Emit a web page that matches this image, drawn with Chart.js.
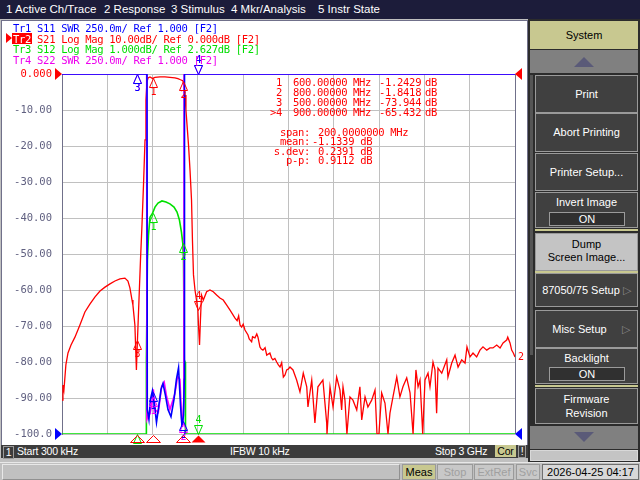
<!DOCTYPE html>
<html>
<head>
<meta charset="utf-8">
<script src="https://cdn.jsdelivr.net/npm/chart.js@4.4.1/dist/chart.umd.min.js"></script>
<style>
  body { margin: 0; width: 640px; height: 480px; overflow: hidden; position: relative;
         background: #c0c0c0; font-family: 'Liberation Sans', Arial, sans-serif; }
  .abs { position: absolute; white-space: pre; }
  #menubar { left: 0; top: 0; width: 640px; height: 19px; background: #1c1c3a; }
  #menubar span { position: absolute; top: 3px; color: #fff; font-size: 11.5px; }
  #chwin { left: 1px; top: 20px; width: 525px; height: 424px; background: #fff; border: 1px solid #70708a; }
  #status { left: 1px; top: 445px; width: 527px; height: 13px; background: #3c3c3c; color: #fff; font-size: 10.5px; letter-spacing: -0.2px; }
  #status span { position: absolute; top: 0; line-height: 13px; }
  #panel { left: 528px; top: 19px; width: 112px; height: 443px; background: #2c2c2c; }
  .btn { position: absolute; left: 7px; width: 101px; background: #404040; border: 1px solid #9a9a9a;
         color: #fff; font-size: 11px; text-align: center; }
  .onbox { position: absolute; left: 13px; width: 74px; height: 12px; border: 1px solid #9a9a9a;
           background: #303030; line-height: 12px; }
  .sep { position: absolute; left: 7px; width: 103px; height: 2px; background: #c8c890; }
  #bottom { left: 0; top: 462px; width: 640px; height: 18px; background: #c0c0c0; border-top: 1px solid #e8e8e8; }
  .bb { position: absolute; top: 1px; height: 14px; line-height: 14px; font-size: 11px; text-align: center;
        border: 1px solid #9a9a9a; }
  .mono { font-family: 'DejaVu Sans Mono', monospace; font-size: 10.5px; line-height: 10px; letter-spacing: -0.3px; }
  #chart { position: absolute; left: 0; top: 0; z-index: 2; }
  #overlay { position: absolute; left: 0; top: 0; width: 640px; height: 480px; z-index: 3; }
</style>
</head>
<body>
<div id="menubar" class="abs">
  <span style="left:6px">1 Active Ch/Trace</span>
  <span style="left:104px">2 Response</span>
  <span style="left:171px">3 Stimulus</span>
  <span style="left:231px">4 Mkr/Analysis</span>
  <span style="left:318px">5 Instr State</span>
</div>
<div id="chwin" class="abs"></div>
<div id="status" class="abs">
  <span style="left:2px;top:1px;width:9px;height:11px;line-height:11px;border:1px solid #9a9a9a;text-align:center">1</span>
  <span style="left:16px">Start 300 kHz</span>
  <span style="left:229px">IFBW 10 kHz</span>
  <span style="left:434px">Stop 3 GHz</span>
  <span style="left:494px;top:0;width:21px;height:12px;line-height:12px;background:#c8c890;color:#000;text-align:center">Cor</span>
  <span style="left:517px;top:0;width:6px;height:11px;line-height:11px;border:1px solid #9a9a9a;text-align:center">!</span>
</div>
<div id="panel" class="abs">
  <div class="abs" style="left:2px;top:56px;width:3px;height:280px;background:#555"></div>
  <div class="btn" style="left:2px;top:2px;width:106px;height:26px;line-height:26px;background:#c8c890;color:#000;border-color:#c8c890">System</div>
  <div class="btn" style="left:2px;top:31px;width:106px;height:21px;background:#808080;border-color:#808080"></div>
  <div class="btn" style="top:56px;height:36px;line-height:36px">Print</div>
  <div class="btn" style="top:94px;height:37px;line-height:37px">Abort Printing</div>
  <div class="btn" style="top:134px;height:36px;line-height:36px">Printer Setup...</div>
  <div class="btn" style="top:173px;height:34px"><div style="margin-top:3px;line-height:13px">Invert Image</div><div class="onbox" style="top:19px">ON</div></div>
  <div class="sep" style="top:210px"></div>
  <div class="btn" style="top:214px;height:36px;background:#c4c4c4;color:#000;line-height:13px"><div style="margin-top:4px">Dump</div><div>Screen Image...</div></div>
  <div class="sep" style="top:252px"></div>
  <div class="btn" style="top:254px;height:32px;line-height:32px">87050/75 Setup <span style="color:#888">&#9655;</span></div>
  <div class="btn" style="top:291px;height:36px;line-height:36px">&nbsp;&nbsp;&nbsp;Misc Setup&nbsp;&nbsp;&nbsp;&nbsp;&nbsp;<span style="color:#888">&#9655;</span></div>
  <div class="btn" style="top:329px;height:34px"><div style="margin-top:3px;line-height:13px">Backlight</div><div class="onbox" style="top:18px">ON</div></div>
  <div class="sep" style="top:366px"></div>
  <div class="btn" style="top:369px;height:34px;line-height:14px"><div style="margin-top:3px">Firmware</div><div>Revision</div></div>
  <div class="btn" style="left:2px;top:407px;width:106px;height:21px;background:#808080;border-color:#808080"></div>
  <div class="btn" style="left:2px;top:431px;width:106px;height:9px;background:#c4c4c4;border-color:#d8d8d8"></div>
  <svg class="abs" style="left:0;top:0" width="112" height="443">
    <polygon points="46,48 66,48 56,38" fill="#5a5a78"/>
    <polygon points="46,413 66,413 56,423" fill="#5a5a78"/>
  </svg>
</div>
<div id="bottom" class="abs">
  <div class="bb" style="left:2px;width:396px;border-color:#e8e8e8 #909090 #909090 #e8e8e8"></div>
  <div class="bb" style="left:402px;width:32px;background:#c8c890">Meas</div>
  <div class="bb" style="left:437px;width:34px;color:#a0a0a0;background:#c8c8c8">Stop</div>
  <div class="bb" style="left:474px;width:38px;color:#a0a0a0;background:#c8c8c8">ExtRef</div>
  <div class="bb" style="left:516px;width:22px;color:#a0a0a0;background:#c8c8c8">Svc</div>
  <div class="bb" style="left:542px;width:95px;background:#d8d8d8;border-color:#707070">2026-04-25 04:17</div>
</div>

<canvas id="chart" width="640" height="480"></canvas>
<div id="overlay"></div>

<script>
// stimulus range (MHz)
const startMHz = 0.3;
const stopMHz = 3000;

// Tr2 S21 log mag (dB)
const s21Freq = [0.3, 6.6, 13, 26, 40, 60, 86, 119, 152, 185, 219, 252, 285, 318, 351, 384, 417, 437, 450, 464,
  470, 483, 493, 500, 510, 520, 530, 540, 550, 556, 563, 570, 583, 600, 616, 649, 682, 715, 748, 768,
  785, 800, 808, 815, 821, 828, 838, 848, 858, 864, 871, 881, 891, 900, 904, 911, 917, 924, 936, 958,
  980, 1002, 1024, 1046, 1068, 1091, 1113, 1146, 1160, 1170, 1179, 1190, 1200, 1212, 1232, 1240, 1256, 1262, 1278, 1290,
  1298, 1311, 1320, 1331, 1345, 1356, 1377, 1388, 1397, 1410, 1422, 1433, 1444, 1455, 1466, 1477, 1488, 1498, 1510, 1530,
  1554, 1576, 1598, 1621, 1629, 1654, 1675, 1695, 1728, 1753, 1755, 1775, 1795, 1819, 1841,
  1852, 1861, 1874, 1887, 1907, 1927, 1952, 1973, 1985, 2007, 2026, 2051, 2073, 2086, 2099, 2117, 2139, 2159, 2172, 2192,
  2217, 2238, 2258, 2283, 2305, 2325, 2344, 2358, 2371, 2389, 2404, 2424, 2437, 2457, 2470, 2481, 2490, 2515, 2548, 2556,
  2581, 2603, 2623, 2647, 2669, 2682, 2702, 2722, 2746, 2768, 2788, 2813, 2834, 2854, 2879, 2901, 2921, 2945, 2952, 2967,
  2978, 2989, 3000];
const s21Db = [-90.6, -86.4, -87.8, -80.8, -77.5, -75.3, -73.1, -69.7, -66.1, -63.9, -61.9, -60.3, -59.2, -58.3, -57.5, -56.9, -56.7, -57.5, -59.4, -62.8,
  -64.2, -69.7, -82.2, -73.9, -62.8, -51.7, -41.9, -30.8, -18.3, -7.2, -2.2, -1.1, -0.8, -1.24, -0.95, -0.8, -0.8, -0.95, -1.1, -1.3,
  -1.6, -1.84, -3.0, -5.8, -10.0, -14.0, -19.7, -26.7, -35.0, -46.0, -55.8, -60.0, -62.8, -65.43, -69.7, -75.3, -68.3, -61.4, -62.8, -60.5,
  -60.0, -60.5, -61.4, -62.2, -62.8, -64.2, -65.6, -67.8, -68.5, -67.2, -69.7, -70.3, -69.5, -71.1, -72.5, -73.6, -74.4, -73.0, -73.3, -72.2,
  -73.1, -75.8, -76.4, -76.7, -76.0, -78.1, -77.5, -78.9, -79.4, -79.0, -80.0, -80.8, -81.4, -80.2, -84.2, -83.6, -82.2, -82.0, -81.4, -82.2,
  -85.0, -88.3, -83.1, -86.9, -92.5, -85.0, -96.9, -86.9, -85.0, -96.9, -100, -86.9, -92.5, -84.2, -87.8,
  -93.3, -86.9, -90.6, -100, -89.7, -90.6, -93.3, -86.9, -96.1, -89.7, -92.5, -90.6, -87.8, -100, -100, -88.6, -91.4, -100, -94.2, -89.7,
  -84.2, -89.7, -86.9, -84.4, -88.6, -100, -82.2, -86.9, -85.0, -100, -85.0, -83.1, -86.9, -80.0, -82.2, -94.2, -81.7, -83.1, -79.4, -84.2,
  -80.3, -78.1, -81.4, -79.4, -80.3, -75.8, -78.6, -77.5, -78.6, -76.7, -75.8, -76.7, -76.1, -76.1, -75.3, -76.1, -74.7, -73.9, -73.1, -74.7,
  -76.7, -77.5, -78.6];

// Tr1 S11 SWR (clamped at top of scale outside passband)
const s11Freq = [0.3, 563, 565, 576, 586, 599, 613, 626, 642, 656, 669, 685, 702, 722, 742, 758, 772, 785, 795, 805, 810, 811.5, 3000];
const s11Swr = [3.5, 3.5, 1.17, 1.1, 1.24, 1.3, 1.2, 1.08, 1.2, 1.31, 1.35, 1.27, 1.17, 1.12, 1.24, 1.38, 1.46, 1.2, 1.05, 1.13, 1.38, 3.5, 3.5];

// Tr4 S22 SWR
const s22Freq = [0.3, 561, 562.5, 573, 583, 594, 605, 616, 638, 660, 677, 693, 715, 748, 766, 781, 793, 799, 807, 808.5, 3000];
const s22Swr = [3.5, 3.5, 1.1, 1.13, 1.14, 1.2, 1.31, 1.17, 1.15, 1.33, 1.36, 1.26, 1.17, 1.28, 1.4, 1.38, 1.1, 1.05, 1.24, 3.5, 3.5];

// Tr3 S12 log mag (dB), 1 dB/div, clamped at bottom
const s12Freq = [0.3, 557, 559, 566, 573, 583, 600, 616, 636, 662, 689, 715, 742, 762, 778, 791, 800, 805, 810, 815, 818, 3000];
const s12Db = [-7.373, -7.373, -5.32, -2.54, -1.85, -1.35, -1.24, -1.07, -0.96, -0.9, -0.93, -0.98, -1.07, -1.21, -1.43, -1.76, -2.07, -2.54, -5.32, -5.37, -7.373, -7.373];

// markers
const markerFreqs = [600, 800, 500, 900];
const markerS21 = [-1.2429, -1.8418, -73.944, -65.432];
const activeMarker = 3;

// tick labels on the S21 axis
const yTicks = ['0.000', '-10.00', '-20.00', '-30.00', '-40.00', '-50.00', '-60.00', '-70.00', '-80.00', '-90.00', '-100.0'];

const headerLines = [
  { text: 'Tr1 S11 SWR 250.0m/ Ref 1.000 [F2]', color: '#0000ff' },
  { text: 'Tr2 S21 Log Mag 10.00dB/ Ref 0.000dB [F2]', color: '#ff0000' },
  { text: 'Tr3 S12 Log Mag 1.000dB/ Ref 2.627dB [F2]', color: '#00dd00' },
  { text: 'Tr4 S22 SWR 250.0m/ Ref 1.000 [F2]', color: '#ee00ee' }
];
const statsLabels = ['span:', 'mean:', 's.dev:', 'p-p:'];
const statsValues = [' 200.0000000 MHz', '-1.1339 dB', ' 0.2391 dB', ' 0.9112 dB'];

const RED = '#ff0000', BLUE = '#0000ff', GREEN = '#00e000', MAG = '#ff00ff';
const MONO = "10px 'DejaVu Sans Mono', monospace";

function pts(fs, vs) {
    return fs.map((f, i) => ({ x: f, y: vs[i] }));
}

function interp(fs, vs, f) {
    for (let i = 0; i < fs.length - 1; i++) {
        if (f >= fs[i] && f <= fs[i + 1]) {
            const t = (f - fs[i]) / (fs[i + 1] - fs[i]);
            return vs[i] + t * (vs[i + 1] - vs[i]);
        }
    }
    return vs[vs.length - 1];
}

function tri(ctx, p, color, fill) {
    ctx.beginPath();
    ctx.moveTo(p[0], p[1]);
    ctx.lineTo(p[2], p[3]);
    ctx.lineTo(p[4], p[5]);
    ctx.closePath();
    if (fill) {
        ctx.fillStyle = color;
        ctx.fill();
    } else {
        ctx.strokeStyle = color;
        ctx.lineWidth = 1;
        ctx.stroke();
    }
}

const markerPlugin = {
    id: 'vnaMarkers',
    afterDatasetsDraw(chart) {
        const { ctx, chartArea, scales } = chart;
        const xs = scales.x;
        const traces = [
            { freqs: s12Freq, vals: s12Db, axis: 'yS12', color: GREEN },
            { freqs: s22Freq, vals: s22Swr, axis: 'ySwr', color: MAG },
            { freqs: s11Freq, vals: s11Swr, axis: 'ySwr', color: BLUE },
            { freqs: s21Freq, vals: s21Db, axis: 'y', color: RED, fixed: markerS21 }
        ];
        ctx.save();
        ctx.beginPath();
        ctx.rect(0, 0, 640, 444);
        ctx.clip();
        ctx.font = MONO;
        ctx.textAlign = 'center';
        ctx.textBaseline = 'middle';

        // markers on every trace
        traces.forEach(tr => {
            const ys = scales[tr.axis];
            markerFreqs.forEach((f, i) => {
                let v = tr.fixed ? tr.fixed[i] : interp(tr.freqs, tr.vals, f);
                v = Math.min(ys.max, Math.max(ys.min, v));
                const x = Math.round(xs.getPixelForValue(f)) + 0.5;
                const y = Math.round(ys.getPixelForValue(v)) + 0.5;
                if (i === activeMarker) {
                    tri(ctx, [x - 4, y - 9, x + 4, y - 9, x, y], tr.color, false);
                    ctx.fillStyle = tr.color;
                    ctx.fillText(String(i + 1), x, y - 14);
                } else {
                    tri(ctx, [x, y, x - 4, y + 9, x + 4, y + 9], tr.color, false);
                    ctx.fillStyle = tr.color;
                    ctx.fillText(String(i + 1), x, y + 14);
                }
            });
        });

        // stimulus indicators under the grid for the active trace
        markerFreqs.forEach((f, i) => {
            const x = Math.round(xs.getPixelForValue(f)) + 0.5;
            const b = chartArea.bottom + 1.5;
            tri(ctx, [x, b, x - 7, b + 7, x + 7, b + 7], RED, i === activeMarker);
        });

        // reference position arrows
        const yRed = scales.y.getPixelForValue(0);
        const yBlue = scales.ySwr.getPixelForValue(1);
        const L = chartArea.left, R = chartArea.right;
        tri(ctx, [L - 7, yRed - 6, L - 7, yRed + 6, L, yRed], RED, true);
        tri(ctx, [L - 7, yBlue - 6, L - 7, yBlue + 6, L, yBlue], BLUE, true);
        tri(ctx, [R + 7, yRed - 6, R + 7, yRed + 6, R, yRed], RED, true);
        tri(ctx, [R + 7, yBlue - 6, R + 7, yBlue + 6, R, yBlue], BLUE, true);

        // trace label at the end of Tr2
        ctx.fillStyle = RED;
        ctx.textAlign = 'left';
        ctx.fillText('2', R + 3, scales.y.getPixelForValue(s21Db[s21Db.length - 1]));
        ctx.restore();
    }
};

new Chart(document.getElementById('chart'), {
    type: 'line',
    data: {
        datasets: [
            { label: 'Tr1 S11', data: pts(s11Freq, s11Swr), yAxisID: 'ySwr', borderColor: BLUE, borderWidth: 1.6, order: 1 },
            { label: 'Tr4 S22', data: pts(s22Freq, s22Swr), yAxisID: 'ySwr', borderColor: MAG, borderWidth: 1.6, order: 2 },
            { label: 'Tr2 S21', data: pts(s21Freq, s21Db), yAxisID: 'y', borderColor: RED, borderWidth: 1.3, order: 3 },
            { label: 'Tr3 S12', data: pts(s12Freq, s12Db), yAxisID: 'yS12', borderColor: GREEN, borderWidth: 1.6, order: 4 }
        ]
    },
    options: {
        responsive: false,
        animation: false,
        devicePixelRatio: 1,
        elements: { point: { radius: 0 }, line: { tension: 0 } },
        layout: { padding: { left: 0, top: 74, right: 125, bottom: 46 } },
        plugins: { legend: { display: false }, tooltip: { enabled: false } },
        scales: {
            x: {
                type: 'linear', min: startMHz, max: stopMHz,
                ticks: { display: false, stepSize: 300 },
                grid: { color: ctx => ctx.tick && ctx.tick.value === stopMHz ? '#70708a' : '#c0c0c0', drawTicks: false },
                border: { display: false },
                afterFit(s) { s.height = 0; }
            },
            y: {
                min: -100, max: 0,
                ticks: {
                    stepSize: 10, padding: 10,
                    font: { family: "'DejaVu Sans Mono', monospace", size: 10.5 },
                    color: ctx => ctx.tick.value === 0 ? RED : '#606080',
                    callback: v => yTicks[Math.round(-v / 10)]
                },
                grid: { color: '#c0c0c0', drawTicks: false },
                border: { color: '#70708a' },
                afterFit(s) { s.width = 62; }
            },
            ySwr: { display: false, min: 1, max: 3.5 },
            yS12: { display: false, min: -7.373, max: 2.627 }
        }
    },
    plugins: [markerPlugin]
});

// text overlays: trace header and marker readout
const overlay = document.getElementById('overlay');
function addText(text, left, top, color, extra) {
    const d = document.createElement('div');
    d.className = 'abs mono';
    d.style.left = left + 'px';
    d.style.top = top + 'px';
    d.style.color = color;
    d.textContent = text;
    if (extra) Object.assign(d.style, extra);
    overlay.appendChild(d);
    return d;
}

const headerTops = [23, 33.5, 44, 54.5];
headerLines.forEach((h, i) => addText(h.text, 13, headerTops[i], h.color));
// active trace highlight
addText('Tr2', 12, 33, '#fff', { background: RED, padding: '0.5px 1px 0 1px', height: '10px' });
const arrow = document.createElementNS('http://www.w3.org/2000/svg', 'svg');
arrow.setAttribute('width', '8'); arrow.setAttribute('height', '12');
arrow.style.position = 'absolute'; arrow.style.left = '5px'; arrow.style.top = '32px';
arrow.innerHTML = '<polygon points="1,1 1,11 7,6" fill="#ff0000"/>';
overlay.appendChild(arrow);

const rowTops = [76.5, 86.5, 96.5, 106.5];
markerFreqs.forEach((f, i) => {
    const num = (i === activeMarker ? '>' : '') + (i + 1);
    addText(num, 232, rowTops[i], RED, { width: '50px', textAlign: 'right' });
    addText(f.toFixed(5), 293, rowTops[i], RED);
    addText('MHz', 353, rowTops[i], RED);
    addText(markerS21[i].toFixed(markerS21[i] > -10 ? 4 : 3), 379, rowTops[i], RED);
    addText('dB', 425, rowTops[i], RED);
});
const statTops = [126.5, 136, 145.7, 155.3];
statsLabels.forEach((l, i) => {
    addText(l, 250, statTops[i], RED, { width: '60px', textAlign: 'right' });
    addText(statsValues[i], 312, statTops[i], RED);
});
</script>
</body>
</html>
